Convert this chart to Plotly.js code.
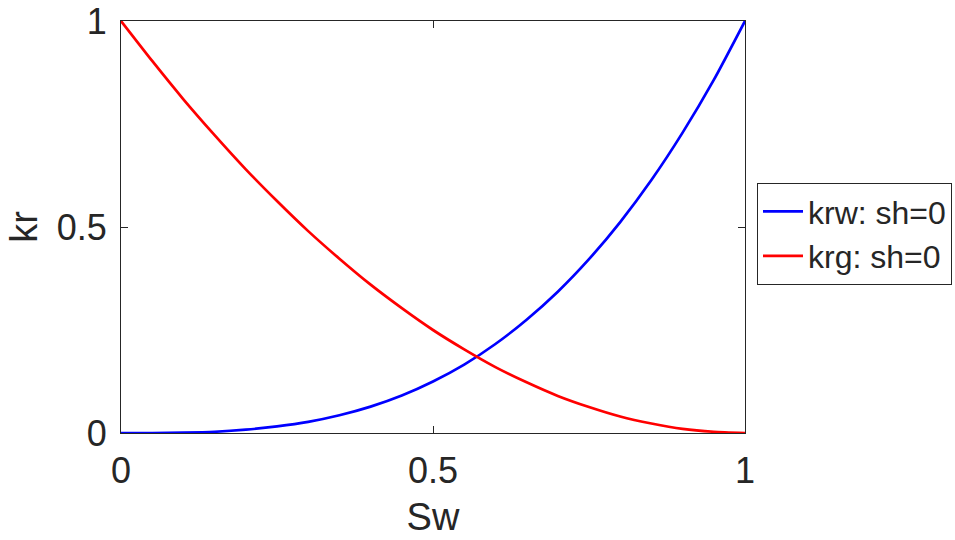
<!DOCTYPE html>
<html>
<head>
<meta charset="utf-8">
<script src="https://cdn.plot.ly/plotly-3.0.1.min.js"></script>
<style>html,body{margin:0;padding:0;background:#fff;}#chart{width:955px;height:540px;}</style>
</head>
<body>
<div id="chart"></div>
<script>
const sw = [0, 0.05, 0.1, 0.15, 0.2, 0.25, 0.3, 0.35, 0.4, 0.45, 0.5, 0.55, 0.6, 0.65, 0.7, 0.75, 0.8, 0.85, 0.9, 0.95, 1];
const krw = [0, 0.000, 0.001, 0.003, 0.008, 0.016, 0.027, 0.043, 0.064, 0.091, 0.125, 0.166, 0.216, 0.275, 0.343, 0.422, 0.512, 0.614, 0.729, 0.857, 1];
const krg = [1, 0.903, 0.81, 0.723, 0.64, 0.563, 0.49, 0.423, 0.36, 0.303, 0.25, 0.203, 0.16, 0.123, 0.09, 0.063, 0.04, 0.023, 0.01, 0.003, 0];
const seriesNames = ['krw: sh=0', 'krg: sh=0'];
const xTicks = [0, 0.5, 1];
const yTicks = [0, 0.5, 1];

const fam = 'Liberation Sans, Arial, sans-serif';
const tickFont = {family: fam, size: 36, color: '#262626'};
const titleFont = {family: fam, size: 38, color: '#262626'};
const legendFont = {family: fam, size: 32, color: '#262626'};
const axisCommon = {
  showline: true, linecolor: '#262626', linewidth: 1, mirror: 'ticks',
  ticks: 'inside', ticklen: 7, tickcolor: '#262626', tickwidth: 1,
  showgrid: false, zeroline: false, tickfont: tickFont, automargin: false
};

Plotly.newPlot('chart', [
  {x: sw, y: krw, name: seriesNames[0], mode: 'lines', line: {color: '#0000ff', width: 2.7, shape: 'spline', smoothing: 0.6}},
  {x: sw, y: krg, name: seriesNames[1], mode: 'lines', line: {color: '#ff0000', width: 2.7, shape: 'spline', smoothing: 0.6}}
], {
  width: 955, height: 540,
  margin: {l: 121, r: 210, t: 21, b: 107},
  paper_bgcolor: '#fff', plot_bgcolor: '#fff',
  font: tickFont,
  showlegend: true,
  legend: {xref: 'container', yref: 'container', x: 757 / 955, y: 1 - 183 / 540, xanchor: 'left', yanchor: 'top',
           bgcolor: '#fff', bordercolor: '#262626', borderwidth: 1, font: legendFont, tracegroupgap: 0, itemwidth: 40},
  xaxis: Object.assign({}, axisCommon, {range: [0, 1], tickvals: xTicks, ticktext: xTicks.map(String), ticklabelstandoff: 6,
           title: {text: 'Sw', font: titleFont, standoff: 13}}),
  yaxis: Object.assign({}, axisCommon, {range: [0, 1], tickvals: yTicks, ticktext: yTicks.map(String), ticklabelstandoff: 6,
           title: {text: 'kr', font: titleFont, standoff: 7}})
}, {staticPlot: true});
</script>
</body>
</html>
